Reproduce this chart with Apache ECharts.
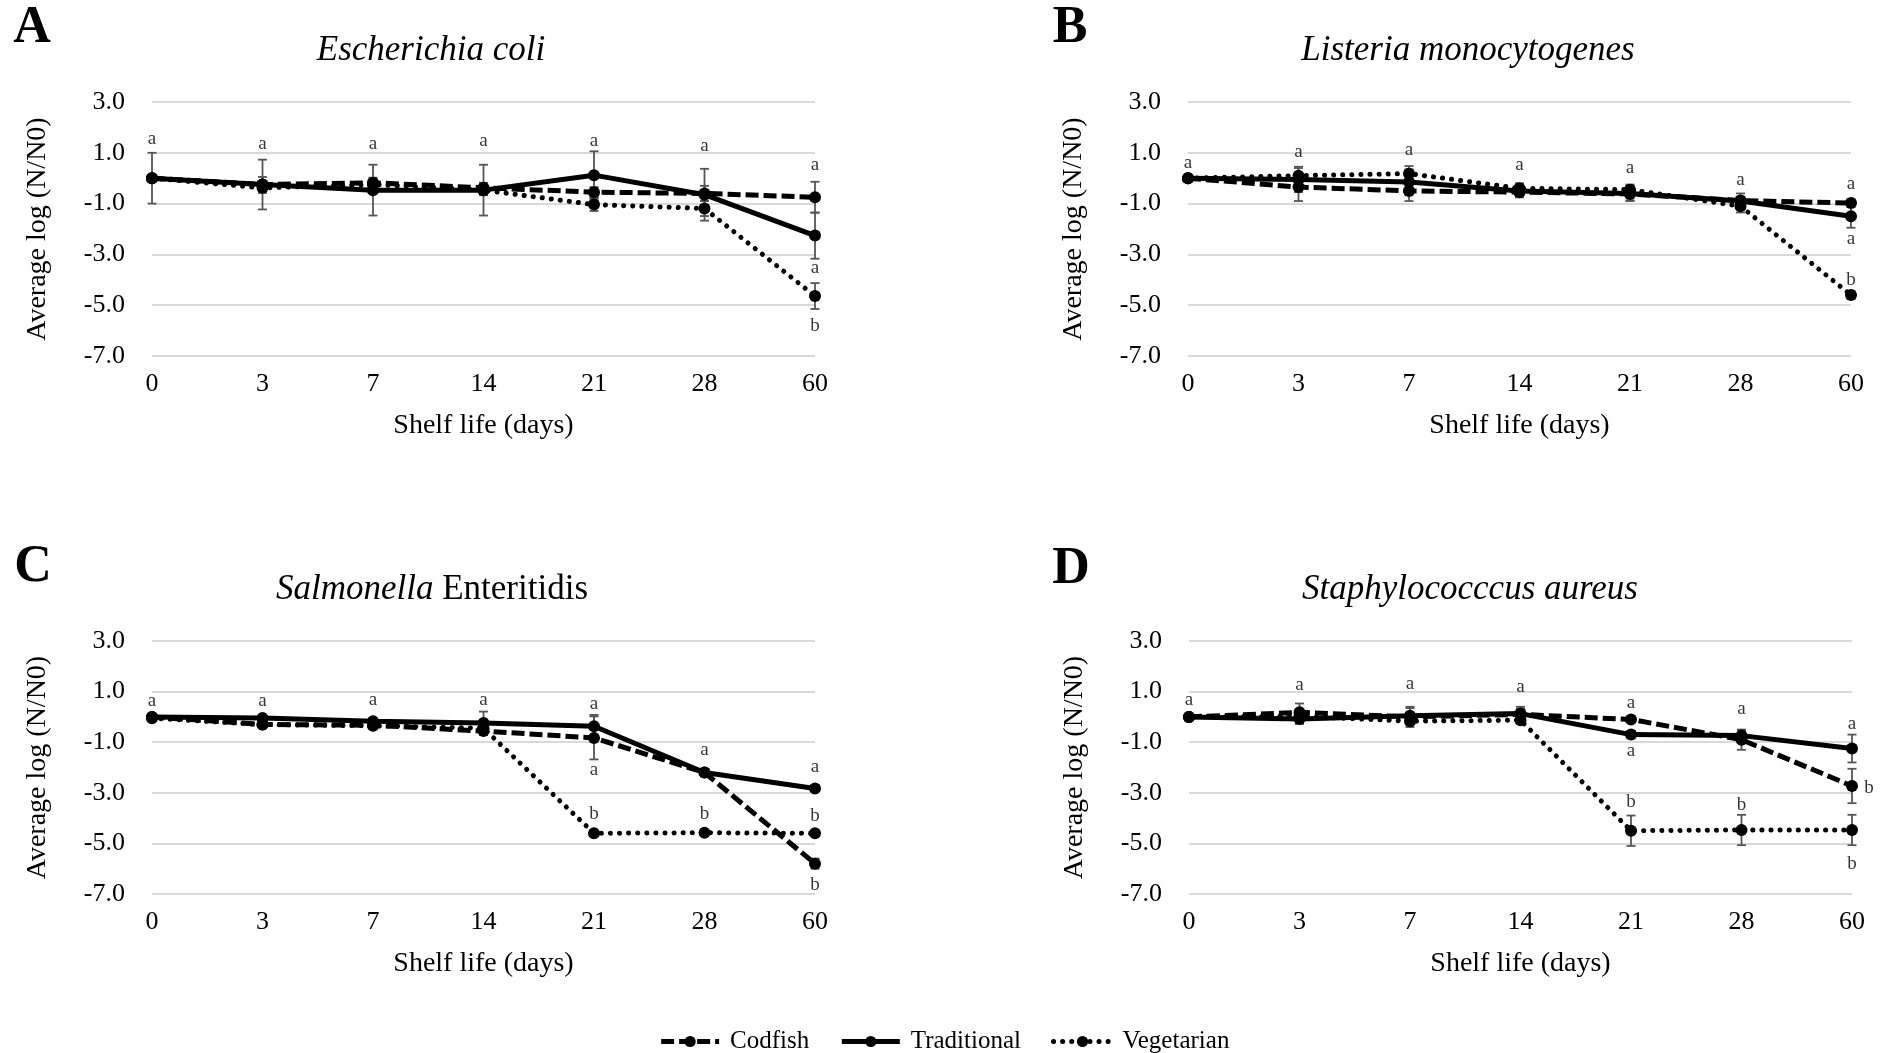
<!DOCTYPE html>
<html><head><meta charset="utf-8">
<script src="https://cdn.jsdelivr.net/npm/echarts@6/dist/echarts.min.js"></script>
<style>html,body{margin:0;padding:0;background:#fff}#c{width:1888px;height:1053px}</style>
</head><body><div id="c"></div>
<script>
// ---------- data ----------
const days = ['0', '3', '7', '14', '21', '28', '60'];
const yTicks = [-7, -5, -3, -1, 1, 3];
const seriesNames = ['Codfish', 'Traditional', 'Vegetarian'];

// A: Escherichia coli
const ecoliCod  = [0, -0.25, -0.18, -0.38, -0.55, -0.60, -0.75];
const ecoliTrad = [0, -0.25, -0.47, -0.47, 0.12, -0.65, -2.26];
const ecoliVeg  = [0, -0.38, -0.25, -0.47, -1.04, -1.19, -4.64];
const ecoliCodErr  = [0.05, 0.30, 0.20, 0.20, 0.20, 0.30, 0.61];
const ecoliTradErr = [1.00, 0.98, 1.00, 1.00, 0.94, 1.02, 0.91];
const ecoliVegErr  = [0.05, 0.20, 0.20, 0.20, 0.25, 0.30, 0.51];
const ecoliLetters = [[0, 1.55, 'a'], [1, 1.33, 'a'], [2, 1.33, 'a'], [3, 1.46, 'a'], [4, 1.46, 'a'], [5, 1.26, 'a'], [6, 0.51, 'a'], [6, -3.53, 'a'], [6, -5.83, 'b']];

// B: Listeria monocytogenes
const listCod  = [0, -0.35, -0.50, -0.55, -0.62, -0.88, -0.98];
const listTrad = [0, -0.05, -0.15, -0.50, -0.60, -0.90, -1.50];
const listVeg  = [0, 0.10, 0.18, -0.40, -0.45, -1.10, -4.60];
const listCodErr  = [0.05, 0.55, 0.40, 0.20, 0.25, 0.15, 0.15];
const listTradErr = [0.05, 0.50, 0.50, 0.25, 0.30, 0.30, 0.45];
const listVegErr  = [0.05, 0.30, 0.30, 0.20, 0.20, 0.25, 0.15];
const listLetters = [[0, 0.60, 'a'], [1, 1.02, 'a'], [2, 1.10, 'a'], [3, 0.50, 'a'], [4, 0.41, 'a'], [5, -0.09, 'a'], [6, -0.22, 'a'], [6, -2.39, 'a'], [6, -3.99, 'b']];

// C: Salmonella Enteritidis
const salCod  = [0, -0.30, -0.33, -0.56, -0.83, -2.20, -5.80];
const salTrad = [0, -0.04, -0.17, -0.24, -0.37, -2.20, -2.83];
const salVeg  = [-0.05, -0.30, -0.35, -0.45, -4.60, -4.58, -4.60];
const salCodErr  = [0.05, 0.15, 0.10, 0.15, 0.85, 0.15, 0.20];
const salTradErr = [0.05, 0.10, 0.10, 0.45, 0.45, 0.10, 0.10];
const salVegErr  = [0.05, 0.10, 0.10, 0.10, 0.10, 0.10, 0.10];
const salLetters = [[0, 0.62, 'a'], [1, 0.62, 'a'], [2, 0.68, 'a'], [3, 0.68, 'a'], [4, 0.52, 'a'], [4, -2.10, 'a'], [4, -3.84, 'b'], [5, -1.31, 'a'], [5, -3.84, 'b'], [6, -1.98, 'a'], [6, -3.90, 'b'], [6, -6.63, 'b']];

// D: Staphylococcus aureus
const stapCod  = [0, 0.18, 0, 0.10, -0.10, -0.90, -2.73];
const stapTrad = [0, -0.08, 0.05, 0.13, -0.70, -0.74, -1.25];
const stapVeg  = [0, 0.03, -0.17, -0.13, -4.50, -4.47, -4.47];
const stapCodErr  = [0.05, 0.35, 0.40, 0.30, 0.10, 0.40, 0.68];
const stapTradErr = [0.05, 0.20, 0.30, 0.20, 0.15, 0.20, 0.55];
const stapVegErr  = [0.05, 0.10, 0.10, 0.10, 0.60, 0.60, 0.60];
const stapLetters = [[0, 0.68, 'a'], [1, 1.27, 'a'], [2, 1.30, 'a'], [3, 1.20, 'a'], [4, 0.55, 'a'], [4, -1.35, 'a'], [4, -3.38, 'b'], [5, 0.33, 'a'], [5, -3.49, 'b'], [6, -0.28, 'a'], [6, -2.83, 'b', 'right'], [6, -5.80, 'b']];

// ---------- layout / style ----------
const FONT = 'Liberation Serif';
const panels = [
  { grid: { left: 152, top: 102, width: 663, height: 254 }, vals: [ecoliCod, ecoliTrad, ecoliVeg], errs: [ecoliCodErr, ecoliTradErr, ecoliVegErr], letters: ecoliLetters },
  { grid: { left: 1188, top: 102, width: 663, height: 254 }, vals: [listCod, listTrad, listVeg], errs: [listCodErr, listTradErr, listVegErr], letters: listLetters },
  { grid: { left: 152, top: 641, width: 663, height: 253 }, vals: [salCod, salTrad, salVeg], errs: [salCodErr, salTradErr, salVegErr], letters: salLetters },
  { grid: { left: 1189, top: 641, width: 663, height: 253 }, vals: [stapCod, stapTrad, stapVeg], errs: [stapCodErr, stapTradErr, stapVegErr], letters: stapLetters }
];
const lineStyles = [
  { width: 5, type: [13, 5], cap: 'butt', color: '#000' },
  { width: 5, type: 'solid', color: '#000' },
  { width: 5, type: [0.1, 9], cap: 'round', color: '#000' }
];

const grids = [], xAxes = [], yAxes = [], series = [];
panels.forEach((p, gi) => {
  grids.push(Object.assign({ containLabel: false }, p.grid));
  xAxes.push({
    type: 'category', gridIndex: gi, data: days, boundaryGap: false,
    axisLine: { show: false }, axisTick: { show: false },
    axisLabel: { fontFamily: FONT, fontSize: 26, color: '#000', margin: 15 },
    name: 'Shelf life (days)', nameLocation: 'middle', nameGap: 56,
    nameTextStyle: { fontFamily: FONT, fontSize: 28, color: '#000' }
  });
  yAxes.push({
    type: 'value', gridIndex: gi, min: -7, max: 3,
    axisLine: { show: false },
    axisTick: { show: false, customValues: yTicks },
    axisLabel: { customValues: yTicks, fontFamily: FONT, fontSize: 26, color: '#000', margin: 27, formatter: v => v.toFixed(1) },
    splitLine: { show: true, lineStyle: { color: '#d9d9d9', width: 2 } },
    name: 'Average log (N/N0)', nameLocation: 'middle', nameGap: 100,
    nameTextStyle: { fontFamily: FONT, fontSize: 28, color: '#000' }
  });
  // error bars
  const errData = [];
  p.vals.forEach((arr, si) => arr.forEach((v, i) => {
    const e = p.errs[si][i];
    errData.push([i, v - e, v + e]);
  }));
  series.push({
    type: 'custom', xAxisIndex: gi, yAxisIndex: gi, silent: true, z: 1,
    data: errData,
    renderItem: (params, api) => {
      const i = api.value(0);
      const lo = api.coord([i, api.value(1)]);
      const hi = api.coord([i, api.value(2)]);
      const hw = 4.5, st = { stroke: '#555', lineWidth: 1.8 };
      return { type: 'group', children: [
        { type: 'line', shape: { x1: hi[0], y1: hi[1], x2: lo[0], y2: lo[1] }, style: st },
        { type: 'line', shape: { x1: hi[0] - hw, y1: hi[1], x2: hi[0] + hw, y2: hi[1] }, style: st },
        { type: 'line', shape: { x1: lo[0] - hw, y1: lo[1], x2: lo[0] + hw, y2: lo[1] }, style: st }
      ] };
    }
  });
  // lines
  [2, 0, 1].forEach(si => {
    series.push({
      type: 'line', name: seriesNames[si], xAxisIndex: gi, yAxisIndex: gi, z: 3,
      data: p.vals[si], symbol: 'circle', symbolSize: 12, showSymbol: true,
      itemStyle: { color: '#000' }, lineStyle: lineStyles[si], silent: true,
      emphasis: { disabled: true }
    });
  });
  // significance letters
  series.push({
    type: 'scatter', xAxisIndex: gi, yAxisIndex: gi, symbolSize: 0, silent: true, z: 4,
    data: p.letters.map(l => ({
      value: [l[0], l[1]], name: l[2],
      label: l[3] === 'right' ? { offset: [17, 0] } : {}
    })),
    label: { show: true, position: 'inside', formatter: d => d.name, fontFamily: FONT, fontSize: 19, color: '#000' }
  });
});

const letterStyle = { fontFamily: FONT, fontSize: 52, fontWeight: 'bold', fill: '#000', textAlign: 'center', textVerticalAlign: 'middle' };
const titleStyle = { fontFamily: FONT, fontSize: 35, fontStyle: 'italic', fill: '#000', textAlign: 'center', textVerticalAlign: 'middle' };
const graphic = [
  { type: 'text', x: 32, y: 29, style: Object.assign({ text: 'A' }, letterStyle) },
  { type: 'text', x: 1070, y: 29, style: Object.assign({ text: 'B' }, letterStyle) },
  { type: 'text', x: 33, y: 568, style: Object.assign({ text: 'C' }, letterStyle) },
  { type: 'text', x: 1071, y: 570, style: Object.assign({ text: 'D' }, letterStyle) },
  { type: 'text', x: 431, y: 51, style: Object.assign({ text: 'Escherichia coli' }, titleStyle) },
  { type: 'text', x: 1468, y: 51, style: Object.assign({ text: 'Listeria monocytogenes' }, titleStyle) },
  { type: 'text', x: 432, y: 590, style: Object.assign({}, titleStyle, {
      text: '{i|Salmonella} {n|Enteritidis}', fontStyle: 'normal',
      rich: { i: { fontFamily: FONT, fontSize: 35, fontStyle: 'italic', color: '#000' }, n: { fontFamily: FONT, fontSize: 35, color: '#000' } } }) },
  { type: 'text', x: 1470, y: 590, style: Object.assign({ text: 'Staphylococccus aureus' }, titleStyle) }
];

const chart = echarts.init(document.getElementById('c'), null, { renderer: 'canvas' });
chart.setOption({
  animation: false,
  backgroundColor: '#fff',
  grid: grids, xAxis: xAxes, yAxis: yAxes, series: series, graphic: graphic,
  legend: {
    data: seriesNames, top: 1024, left: 'center',
    itemWidth: 58, itemHeight: 14, itemGap: 30,
    lineStyle: { width: 5 },
    textStyle: { fontFamily: FONT, fontSize: 25, color: '#000', padding: [0, 0, 0, 6] },
    selectedMode: false
  }
});
</script></body></html>
